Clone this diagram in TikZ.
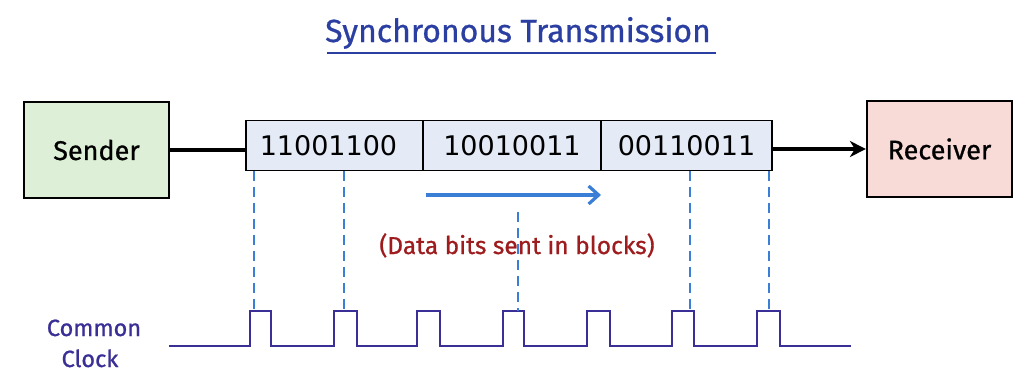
\documentclass[tikz,border=0pt]{standalone}
\usepackage{fontspec}
\setmainfont{Fira Sans}[FakeBold=0.8]
\newfontfamily\digitfont{DejaVu Sans}
\usetikzlibrary{arrows.meta}
\definecolor{titleblue}{HTML}{2B3FA3}
\definecolor{clockcol}{HTML}{3A2F96}
\definecolor{dashblue}{HTML}{3B7ED6}
\definecolor{redtxt}{HTML}{9E1C1E}
\definecolor{sendfill}{HTML}{DDF0D7}
\definecolor{recvfill}{HTML}{F8DAD6}
\definecolor{blockfill}{HTML}{E4EBF7}
\tikzset{
  boxnode/.style={draw=black, line width=2.2pt, minimum width=145pt, minimum height=96pt, inner sep=0pt, font=\fontsize{27}{30}\selectfont},
  cellnode/.style={draw=black, line width=1.8pt, fill=blockfill, minimum height=50pt, inner sep=0pt, font=\digitfont\fontsize{27}{30}\selectfont},
  conn/.style={line width=3.4pt, black},
  guide/.style={dashblue, line width=1.5pt, dash pattern=on 10pt off 6pt},
  clockline/.style={clockcol, line width=2.3pt},
}
\begin{document}
\begin{tikzpicture}[x=1pt,y=-1pt]
\useasboundingbox (0,0) rectangle (1024,386);
\fill[white] (0,0) rectangle (1024,386);
% title
\node[anchor=base, text=titleblue, font=\fontsize{32}{38}\selectfont, inner sep=0pt] (title) at (518,42) {Synchronous Transmission};
\draw[titleblue, line width=2.6pt] (327,53) -- (716,53);
% boxes
\node[boxnode, fill=sendfill] (sender) at (96.5,150) {Sender};
\node[boxnode, fill=recvfill] (receiver) at (939.5,149) {Receiver};
% data blocks
\node[cellnode, minimum width=177pt] (b1) at (334.5,145.5) {\hspace*{-12pt}11001100};
\node[cellnode, minimum width=178pt] (b2) at (512,145.5) {10010011};
\node[cellnode, minimum width=171pt] (b3) at (686.5,145.5) {00110011};
% connectors
\draw[conn] (sender.east) -- (sender.east -| b1.west);
\draw[conn, -{Stealth[length=16pt,width=16pt,inset=5pt]}] (b3.east |- receiver.west) -- (receiver.west);
% blue arrow
\coordinate (arrA) at (426,195);
\coordinate (arrB) at (601,195);
\draw[dashblue, line width=3.2pt, -{Straight Barb[length=10pt,width=18pt]}] (arrA) -- (arrB);
% label
\node[anchor=base, text=redtxt, font=\fontsize{24.5}{28}\selectfont, inner sep=0pt] (lbl) at (517,254) {(Data bits sent in blocks)};
% clock
\node[anchor=base, text=clockcol, font=\fontsize{23.5}{26}\selectfont, inner sep=0pt] (common) at (94,336) {Common};
\node[anchor=base, text=clockcol, font=\fontsize{23.5}{26}\selectfont, inner sep=0pt] (clock) at (90,367) {Clock};
\def\lo{346}
\def\hi{311}
\draw[clockline, line join=miter]
  (169,\lo) -- (250,\lo) -- (250,\hi) -- (271,\hi) -- (271,\lo)
  -- (334,\lo) -- (334,\hi) -- (357,\hi) -- (357,\lo)
  -- (417,\lo) -- (417,\hi) -- (440,\hi) -- (440,\lo)
  -- (503,\lo) -- (503,\hi) -- (524,\hi) -- (524,\lo)
  -- (587,\lo) -- (587,\hi) -- (610,\hi) -- (610,\lo)
  -- (672,\lo) -- (672,\hi) -- (694,\hi) -- (694,\lo)
  -- (757,\lo) -- (757,\hi) -- (780,\hi) -- (780,\lo)
  -- (851,\lo);
% guide lines
\foreach \gx/\gn in {254/g1, 344/g2, 690/g4, 769/g5} {
  \coordinate (\gn top) at (\gx,171);
  \coordinate (\gn bot) at (\gx,\hi);
  \draw[guide] (\gn top) -- (\gn bot);
}
\coordinate (g3top) at (518,212);
\coordinate (g3bot) at (518,\hi);
\draw[guide] (g3top) -- (g3bot);
\end{tikzpicture}
\end{document}
